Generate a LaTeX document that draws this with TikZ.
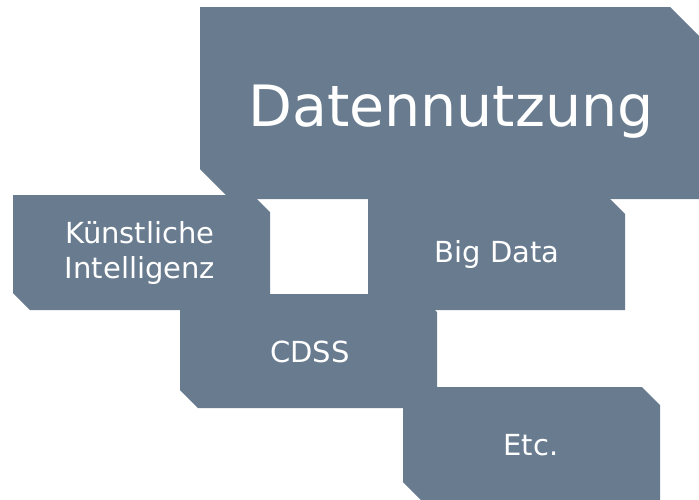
\documentclass[tikz,border=0pt]{standalone}
\usepackage{fontspec}
\setmainfont{DejaVu Sans}
\usepackage{tikz}
\usetikzlibrary{calc}

\definecolor{boxgray}{HTML}{687B8F}

% box with snipped top-right and bottom-left corners
\newcommand{\snipbox}[5]{%
  \fill[snipfill] (#1,#2) -- ({#3-#5},#2) -- (#3,{#2+#5}) -- (#3,#4)
    -- ({#1+#5},#4) -- (#1,{#4-#5}) -- cycle;}

\tikzset{
  snipfill/.style={fill=boxgray},
  lbl/.style={text=white, inner sep=0pt, font=\fontsize{29}{35}\selectfont},
  biglbl/.style={text=white, inner sep=0pt, font=\fontsize{57}{60}\selectfont}
}

\begin{document}
\begin{tikzpicture}[x=1pt,y=-1pt]

      \useasboundingbox (0,0) rectangle (699,499);

      \snipbox{200}{7}{700}{199}{30}   % Datennutzung
      \snipbox{13}{195}{270}{310}{17}  % KI
      \snipbox{368}{199}{625}{310}{15} % Big Data
      \snipbox{180}{294}{437}{408}{18} % CDSS
      \snipbox{403}{387}{660}{500}{18} % Etc.

      \node[biglbl, anchor=base] (nutzung) at (451,126) {Datennutzung};
      \node[lbl, align=center] (ki) at (140,253) {Künstliche\\Intelligenz};
      \node[lbl, anchor=base] (bigdata) at (497,262) {Big Data};
      \node[lbl, anchor=base] (cdss) at (310,362) {CDSS};
      \node[lbl, anchor=base] (etc) at (531,455) {Etc.};
    \end{tikzpicture}
\end{document}
